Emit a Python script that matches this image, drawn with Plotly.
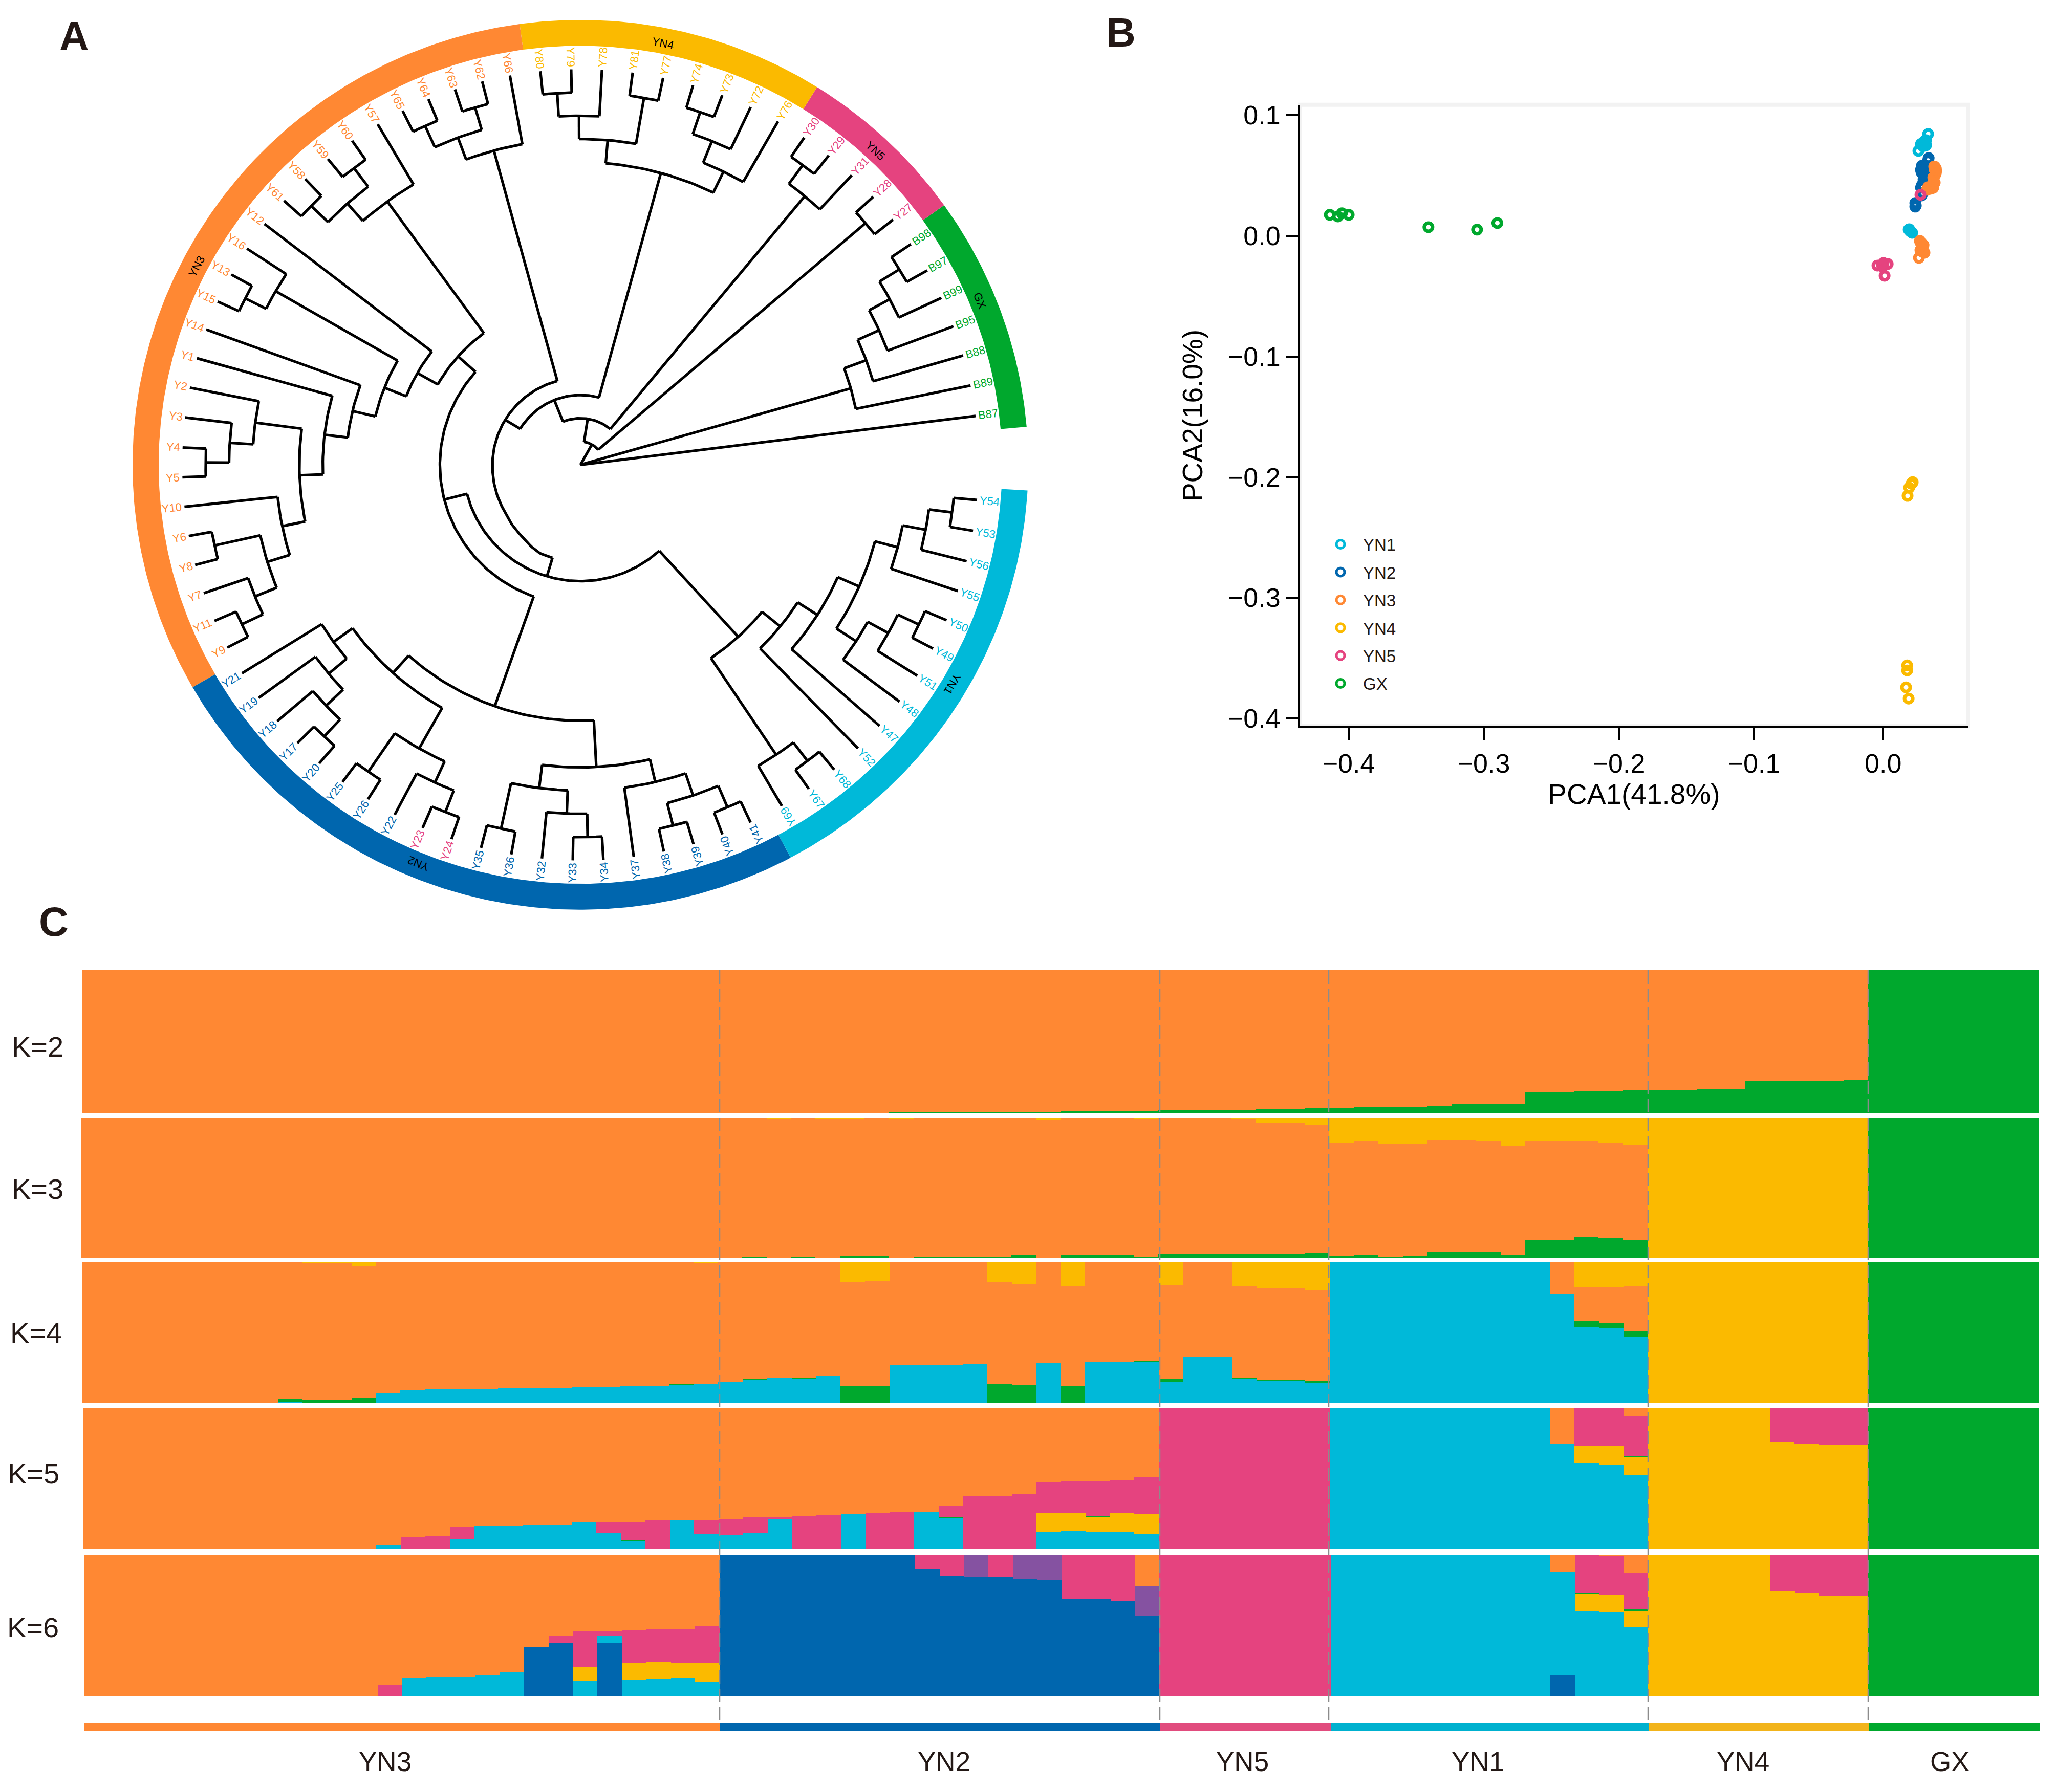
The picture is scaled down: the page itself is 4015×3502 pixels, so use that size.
import numpy as np
import plotly.graph_objects as go

W, H = 4015, 3502
PAGE_OFFSET = 8  # the page's body margin
FONT = "Liberation Sans"
C = dict(orange="#FF8833", blue="#0066AE", cyan="#00B9D9", yellow="#FBBA00",
         pink="#E5437F", green="#00A82D", purple="#8552A1")

# ---------- Panel A data: tree topology (counter-clockwise from B87) ----------
gx_clade = ("B89", ("B88", ("B95", ("B99", ("B97", "B98")))))
yn5_a = ("Y27", "Y28")
yn5_b = ("Y31", ("Y29", "Y30"))
yn4_clade = (("Y76", ("Y72", ("Y73", "Y74"))), (("Y77", "Y81"), ("Y78", ("Y79", "Y80"))))
y66_clade = ("Y66", (("Y62", "Y63"), ("Y64", "Y65")))
y57_clade = ("Y57", (("Y60", "Y59"), ("Y58", "Y61")))
y16_clade = ("Y16", ("Y13", "Y15"))
y2_clade = ("Y2", ("Y3", ("Y4", "Y5")))
y10_clade = ("Y10", (("Y6", "Y8"), ("Y7", ("Y11", "Y9"))))
yn3_deep = (y57_clade, ("Y12", (y16_clade, ("Y14", ("Y1", (y2_clade, y10_clade))))))
yn2_a = (("Y21", ("Y19", ("Y18", ("Y17", "Y20")))), (("Y25", "Y26"), ("Y22", ("Y23", "Y24"))))
yn2_b = ((("Y35", "Y36"), ("Y32", ("Y33", "Y34"))), ("Y37", (("Y38", "Y39"), ("Y40", "Y41"))))
yn1_a = ("Y69", ("Y67", "Y68"))
yn1_b = ("Y52", ("Y47", (("Y48", ("Y51", ("Y49", "Y50"))), ("Y55", ("Y56", ("Y53", "Y54"))))))
upper_inner = (y66_clade, ((yn3_deep, (yn2_a, yn2_b)), (yn1_a, yn1_b)))
tree = ("B87", gx_clade, (yn5_a, (yn5_b, (yn4_clade, upper_inner))))

# leaf angles at a few leaves (leaf position in order, degrees)
leaf_index_read = [0, 6, 11, 18, 21, 26, 31, 39, 40, 47, 52, 60, 62, 66, 67, 70, 71, 76, 78, 79]
leaf_angle_read = [7.1, 33.9, 55.8, 86.9, 100.2, 120.6, 142.5, 177.5, 181.8, 211.8, 233.3, 268.9, 277.7, 295.3, 300.4,
                   314.2, 318.7, 341.4, 350.4, 354.9]
# the arc of this one inner node is not a true circle in the picture
inner_attach_angle = 149.0
inner_arc_angles = [105, 184, 210, 230, 245]
inner_arc_radii = [171, 172, 174, 181, 191]

ring_names = ["GX", "YN5", "YN4", "YN3", "YN2", "YN1"]
ring_edges = [4.9, 35.7, 58.1, 97.8, 210.0, 298.0, 356.7]
ring_colors = [C["green"], C["pink"], C["yellow"], C["orange"], C["blue"], C["cyan"]]
ring_label_angles = [22.5, 47.0, 79.0, 152.5, 248.0, 329.3]
pink_leaves_in_yn2 = ["Y23", "Y24"]

# ---------- Panel B data ----------
pca_groups = ["YN1", "YN2", "YN3", "YN4", "YN5", "GX"]
pca_colors = [C["cyan"], C["blue"], C["orange"], C["yellow"], C["pink"], C["green"]]
yn1_x = [.0288, .0216, .0239, .0261, .0273, .0273, .025, .0235, .0148, .017, .0155, .0144, .0165]
yn1_y = [.0844, .0704, .0764, .0785, .0751, .0793, .0743, .076, .0055, .0025, .0038, .0052, .003]
yn2_x = [.0292, .0288, .0242, .0235, .0273, .0288, .0239, .0261, .0254, .0242, .0235, .0254, .0273, .0239, .0193, .0197, .0193, .0273, .0261, .025]
yn2_y = [.0645, .0624, .0581, .0547, .0573, .053, .0526, .0488, .0467, .042, .0399, .0412, .0445, .0335, .0272, .025, .0242, .0547, .051, .0356]
yn3_x = [.0337, .0345, .0348, .0337, .0345, .0326, .0337, .0318, .0326, .0288, .028, .0303, .0318, .0333, .0328, .0340, .0227, .0254, .0231, .0261, .022, .0245, .0240, .0250, .0236, .0248]
yn3_y = [.0573, .056, .0539, .0547, .0518, .0484, .0441, .042, .0399, .0403, .0382, .039, .0395, .0575, .0455, .0505, -.0042, -.0076, -.0119, -.014, -.0182, -.0095, -.0125, -.0135, -.0065, -.0115]
yn4_x = [.0174, .0165, .0148, .0136, .0133, .0133, .0125, .0144, .0170]
yn4_y = [-.2041, -.2055, -.2087, -.2155, -.356, -.3602, -.3742, -.3835, -.2048]
yn5_x = [.0231, -.0087, -.0042, -.0011, -.0049, -.0034, -.0055]
yn5_y = [.034, -.0246, -.0225, -.0233, -.0255, -.0331, -.024]
gx_x = [-.414, -.408, -.405, -.400, -.341, -.305, -.290]
gx_y = [.0174, .0161, .0187, .0174, .0072, .0051, .0106]
pca_x_ticks = [-.4, -.3, -.2, -.1, -.0045]
pca_x_tick_labels = ["\u22120.4", "\u22120.3", "\u22120.2", "\u22120.1", "0.0"]

# ---------- Panel C data (80 individuals; orange is the remainder in each row) ----------
group_names = ["YN3", "YN2", "YN5", "YN1", "YN4", "GX"]
group_sizes = [26, 18, 7, 13, 9, 7]
group_bar_colors = [C["orange"], C["blue"], "#E14C7E", "#00B1CF", "#F2B41B", C["green"]]

k2_green = [0]*33 + [.003, .004, .004, .005, .006, .008, .009, .01, .011, .011, .014, .022, .022, .023, .024, .03, .03, .038,
                     .038, .04, .043, .045, .046, .065, .065, .065, .148, .148, .155, .155, .16,
                     .16, .163, .165, .17, .222, .225, .228, .228, .235] + [1]*7

k3_green = [0]*27 + [.004, 0, .008, 0, .014, .014, 0, .01, .01, .01, .01, .018, 0, .018, .018, .018, .006,
                     .03, .025, .025, .027, .03, .03, .035,
                     .012, .02, .01, .012, .045, .045, .042, .02, .125, .13, .147, .14, .13] + [0]*9 + [1]*7
k3_yellow = [0]*28 + [.005, 0, .005, .005, 0, .012, .002, .002, 0, 0, 0, .015, .002, 0, .003, .01,
                      .003, .003, .003, .01, .04, .04, .05,
                      .178, .163, .19, .19, .16, .16, .167, .205, .163, .163, .167, .179, .194] + [1]*9 + [0]*7

k4_cyan = [0]*8 + [.008, 0, 0, 0, .072, .095, .098, .102, .101, .11, .11, .11, .116, .118, .12, .122, .132, .138,
                   .149, .167, .178, .178, .19, 0, 0, .273, .275, .275, .277, 0, 0, .289, 0, .293, .295, .291,
                   .155, .333, .333, .174, .163, .163, .148] + [1]*9 + [.777, .538, .53, .47] + [0]*16
k4_green = [0]*6 + [.004, .006, .022, .027, .027, .034] + [0]*12 + [.005, 0,
                    0, .005, 0, .003, 0, .12, .126, 0, 0, 0, 0, .14, .13, 0, .124, 0, 0, .01,
                    .02, 0, 0, .004, .004, .005, .012] + [0]*10 + [.045, .038, .038] + [0]*9 + [1]*7
k4_yellow = [0]*9 + [.006, .006, .03] + [0]*13 + [.004] + [0]*5 + [.138, .136] + [0]*4 + [.14, .153, 0, .169, 0, 0, 0,
                     .159, 0, 0, .167, .182, .182, .197] + [0]*10 + [.174, .174, .17] + [1]*9 + [0]*7

k5_cyan = [0]*12 + [.025, 0, 0, .072, .161, .165, .167, .167, .188, .118, .062, 0, .205, .11,
                    .1, .112, .215, 0, 0, .248, 0, 0, .264, .225, 0, 0, 0, .124, .132, .12, .124, .11] + [0]*7 + [1]*9 + [.742, .606, .598, .526] + [0]*16
k5_yellow = [0]*39 + [.134, .122, .107, .134, .14] + [0]*17 + [.121, .129, .129] + [1]*5 + [.758, .746, .735, .735] + [0]*7
k5_green = [0]*22 + [.004] + [0]*12 + [.004] + [0]*5 + [.004] + [0]*21 + [.004] + [0]*9 + [1]*7
k5_pink = [0]*13 + [.087, .09, .083, 0, 0, 0, 0, 0, .07, .128, .205, 0, .095,
                    .115, .113, .015, .235, .242, 0, .254, .26, 0, .077, .372, .378, .39, .217, .228, .253, .227, .256] + [1]*7 + [0]*10 + [.273, .273, .284] + [0]*5 + [.242, .254, .265, .265] + [0]*7

k6_blue = [0]*18 + [.348, .375, 0, .375] + [0]*4 + [1]*8 + [.9, .853, .845, .84, .83, .82, .687, .687, .669, .561] + [0]*16 + [.144] + [0]*19
k6_cyan = [0]*13 + [.125, .13, .13, .145, .17, 0, 0, .105, .045, .11, .118, .124, .1] + [0]*25 + [1]*9 + [.731, .6, .59, .485] + [0]*16
k6_yellow = [0]*20 + [.097, 0, .124, .126, .112, .132] + [0]*35 + [.12, .125, .118] + [1]*5 + [.74, .724, .712, .712] + [0]*7
k6_green = [0]*61 + [.004, 0, .01] + [0]*9 + [1]*7
k6_pink = [0]*12 + [.076] + [0]*6 + [.045, .26, .04, .232, .228, .236, .263] + [0]*8 + [.1, .147, 0, .16, 0, 0, .313, .313, .331, 0] + [1]*7 + [0]*10 + [.276, .28, .258] + [0]*5 + [.26, .276, .288, .288] + [0]*7
k6_purple = [0]*36 + [.155, 0, .17, .18, 0, 0, 0, .217] + [0]*36

# stacking order, bottom to top, for each K; None marks the orange remainder
k_rows = [
    ("K=2", [("green", k2_green), ("orange", None)]),
    ("K=3", [("green", k3_green), ("orange", None), ("yellow", k3_yellow)]),
    ("K=4", [("cyan", k4_cyan), ("green", k4_green), ("orange", None), ("yellow", k4_yellow)]),
    ("K=5", [("cyan", k5_cyan), ("yellow", k5_yellow), ("green", k5_green), ("pink", k5_pink), ("orange", None)]),
    ("K=6", [("blue", k6_blue), ("cyan", k6_cyan), ("yellow", k6_yellow), ("green", k6_green), ("pink", k6_pink),
             ("purple", k6_purple), ("orange", None)]),
]

# ---------- layout geometry ----------
def fx(px): return (px - PAGE_OFFSET) / W
def fy(py): return 1 - (py - PAGE_OFFSET) / H

fig = go.Figure()
layout_axes = {}
annos = []
shapes = []

def text(x, y, s, size, color="#231815", angle=0, bold=False, xref="paper", yref="paper"):
    if xref == "paper":
        x, y = fx(x), fy(y)
    annos.append(dict(x=x, y=y, xref=xref, yref=yref, text=("<b>%s</b>" % s) if bold else s, showarrow=False,
                      font=dict(family=FONT, size=size, color=color), textangle=angle,
                      xanchor="center", yanchor="middle"))

# ---------- Panel A ----------
CX, CY = 1134, 906
layout_axes["xaxis"] = dict(domain=[fx(PAGE_OFFSET), fx(2100)], range=[PAGE_OFFSET - CX, 2100 - CX], visible=False, fixedrange=True)
layout_axes["yaxis"] = dict(domain=[fy(1810), fy(PAGE_OFFSET)], range=[CY - 1810, CY - PAGE_OFFSET], visible=False, fixedrange=True)

TIP_R = 778.0
def height(n):
    return 0 if isinstance(n, str) else 1 + max(height(c) for c in n)
STEP = TIP_R / height(tree)

leaf_order = []
def collect(n):
    if isinstance(n, str):
        leaf_order.append(n)
    else:
        for c in n:
            collect(c)
collect(tree)
leaf_angle = {name: float(np.interp(i, leaf_index_read, leaf_angle_read)) for i, name in enumerate(leaf_order)}

def angle(n):
    if isinstance(n, str):
        return leaf_angle[n]
    if n == upper_inner:
        return inner_attach_angle
    return (angle(n[0]) + angle(n[-1])) / 2

def radius_at(n, a):
    if n == upper_inner:
        return float(np.interp(a, inner_arc_angles, inner_arc_radii))
    return TIP_R - STEP * height(n)

def pol(r, a):
    t = np.radians(a)
    return r * np.cos(t), r * np.sin(t)

tx, ty = [], []
def walk(n):
    if isinstance(n, str):
        return
    a0, a1 = angle(n[0]), angle(n[-1])
    if radius_at(n, a0) > 1:
        for a in np.linspace(a0, a1, max(2, int(abs(a1 - a0)) + 2)):
            x, y = pol(radius_at(n, a), a)
            tx.append(x); ty.append(y)
        tx.append(None); ty.append(None)
    for c in n:
        ac = angle(c)
        for rr in (radius_at(n, ac), radius_at(c, ac)):
            x, y = pol(rr, ac)
            tx.append(x); ty.append(y)
        tx.append(None); ty.append(None)
        walk(c)
walk(tree)
fig.add_trace(go.Scatter(x=tx, y=ty, mode="lines", line=dict(color="black", width=5.2), hoverinfo="skip",
                         showlegend=False, xaxis="x", yaxis="y"))

R_IN, R_OUT = 824, 875
for name, a0, a1, col, la in zip(ring_names, ring_edges[:-1], ring_edges[1:], ring_colors, ring_label_angles):
    aa = np.linspace(a0, a1, max(4, int(a1 - a0) * 2))
    xo, yo = pol(R_OUT, aa)
    xi, yi = pol(R_IN, aa[::-1])
    fig.add_trace(go.Scatter(x=np.r_[xo, xi, xo[0]], y=np.r_[yo, yi, yo[0]], mode="lines", fill="toself",
                             fillcolor=col, line=dict(width=0, color=col), hoverinfo="skip", showlegend=False,
                             xaxis="x", yaxis="y"))

for name, a0, a1, col, la in zip(ring_names, ring_edges[:-1], ring_edges[1:], ring_colors, ring_label_angles):
    x, y = pol(845, la)
    text(x, y, name, 22, color="black", angle=-(la - 90), xref="x", yref="y")

LABEL_FONT = 22
for name in leaf_order:
    a = leaf_angle[name]
    idx = np.searchsorted(ring_edges, a) - 1
    col = ring_colors[min(idx, 5)]
    if name in pink_leaves_in_yn2:
        col = C["pink"]
    w = LABEL_FONT * (0.667 + 0.556 * (len(name) - 1))
    x, y = pol(TIP_R + 5 + w / 2, a)
    rot = a - 180 if 90 < a < 303 else a
    text(x, y, name, LABEL_FONT, color=col, angle=-rot, xref="x", yref="y")

# ---------- Panel B ----------
PX0, PX1, PY0, PY1 = 2540, 3845, 198, 1420
layout_axes["xaxis2"] = dict(domain=[fx(PX0), fx(PX1)], range=[-.436, .0583], anchor="y2",
                             tickvals=pca_x_ticks, ticktext=pca_x_tick_labels, showgrid=False, zeroline=False,
                             showline=True, linecolor="black", linewidth=4, ticks="outside", ticklen=24, tickwidth=4,
                             tickcolor="black", tickfont=dict(family=FONT, size=52, color="black"),
                             title=dict(text="PCA1(41.8%)", font=dict(family=FONT, size=55, color="black"), standoff=14))
layout_axes["yaxis2"] = dict(domain=[fy(PY1), fy(PY0)], range=[-.4064, .1086], anchor="x2",
                             tickvals=[.1, 0, -.1, -.2, -.3, -.4], tickformat=".1f", showgrid=False, zeroline=False,
                             showline=True, linecolor="black", linewidth=4, ticks="outside", ticklen=24, tickwidth=4,
                             tickcolor="black", tickfont=dict(family=FONT, size=52, color="black"),
                             title=dict(text="PCA2(16.0%)", font=dict(family=FONT, size=55, color="black"), standoff=33))
shapes.append(dict(type="rect", xref="paper", yref="paper", x0=fx(PX0), x1=fx(PX1), y0=fy(PY1), y1=fy(PY0),
                   line=dict(color="#F2F2F2", width=8), layer="below"))
pca_x = [yn1_x, yn2_x, yn3_x, yn4_x, yn5_x, gx_x]
pca_y = [yn1_y, yn2_y, yn3_y, yn4_y, yn5_y, gx_y]
for name, col, xs, ys in zip(pca_groups, pca_colors, pca_x, pca_y):
    fig.add_trace(go.Scatter(x=xs, y=ys, mode="markers", name=name, legendgroup=name,
                             marker=dict(symbol="circle-open", size=16, color=col, line=dict(color=col, width=7)),
                             xaxis="x2", yaxis="y2", hoverinfo="skip"))

# ---------- Panel C ----------
row_tops = [1900, 2190, 2474, 2760, 3049]
row_bottoms = [2181, 2466, 2751, 3038, 3327]
row_lefts = [160, 159, 161, 162, 165]
ROW_RIGHT = 3984
ind_x = np.arange(80) + 0.5
for i, ((label, stack), top, bot, left) in enumerate(zip(k_rows, row_tops, row_bottoms, row_lefts)):
    ax = i + 3
    layout_axes["xaxis%d" % ax] = dict(domain=[fx(left), fx(ROW_RIGHT)], range=[0, 80], visible=False, anchor="y%d" % ax)
    layout_axes["yaxis%d" % ax] = dict(domain=[fy(bot), fy(top)], range=[0, 1], visible=False, anchor="x%d" % ax)
    known = np.sum([np.array(v, float) for _, v in stack if v is not None], axis=0)
    for cname, vals in stack:
        y = np.clip(1 - known, 0, 1) if vals is None else vals
        fig.add_trace(go.Bar(x=ind_x, y=y, width=1, marker=dict(color=C[cname], line=dict(width=0)),
                             xaxis="x%d" % ax, yaxis="y%d" % ax, showlegend=False, hoverinfo="skip"))

layout_axes["xaxis8"] = dict(domain=[fx(164), fx(3986)], range=[0, 80], visible=False, anchor="y8")
layout_axes["yaxis8"] = dict(domain=[fy(3396), fy(3380)], range=[0, 1], visible=False, anchor="x8")
starts = np.r_[0, np.cumsum(group_sizes)[:-1]]
fig.add_trace(go.Bar(x=starts + np.array(group_sizes) / 2, y=[1] * 6, width=group_sizes,
                     marker=dict(color=group_bar_colors, line=dict(width=0)), xaxis="x8", yaxis="y8",
                     showlegend=False, hoverinfo="skip"))

# group separators
for px in [1406, 2266, 2596, 3220, 3650]:
    shapes.append(dict(type="line", xref="paper", yref="paper", x0=fx(px), x1=fx(px), y0=fy(1900), y1=fy(3380),
                       line=dict(color="#8C8C8C", width=2.5, dash="26px,10px"), layer="above"))

k_label_x = [73, 73, 70, 65, 64]
k_label_y = [2050, 2330, 2613, 2890, 3193]
for (label, _), x, y in zip(k_rows, k_label_x, k_label_y):
    text(x, y, label, 56)
group_label_x = [752, 1844, 2427, 2887, 3405, 3809]
for name, x in zip(group_names, group_label_x):
    text(x, 3456, name, 53)

# panel letters
text(145, 63, "A", 80, bold=True)
text(2190, 56, "B", 80, bold=True)
text(105, 1805, "C", 80, bold=True)

fig.update_layout(
    width=W, height=H, margin=dict(l=0, r=0, t=0, b=0), paper_bgcolor="white", plot_bgcolor="rgba(0,0,0,0)",
    barmode="stack", bargap=0, annotations=annos, shapes=shapes,
    font=dict(family=FONT),
    legend=dict(x=fx(2575), y=fy(1034), xanchor="left", yanchor="top", bgcolor="rgba(0,0,0,0)", borderwidth=0,
                font=dict(family=FONT, size=33, color="#231815"), itemwidth=78, tracegroupgap=8.5),
    **layout_axes,
)
fig.write_html("out.html")
